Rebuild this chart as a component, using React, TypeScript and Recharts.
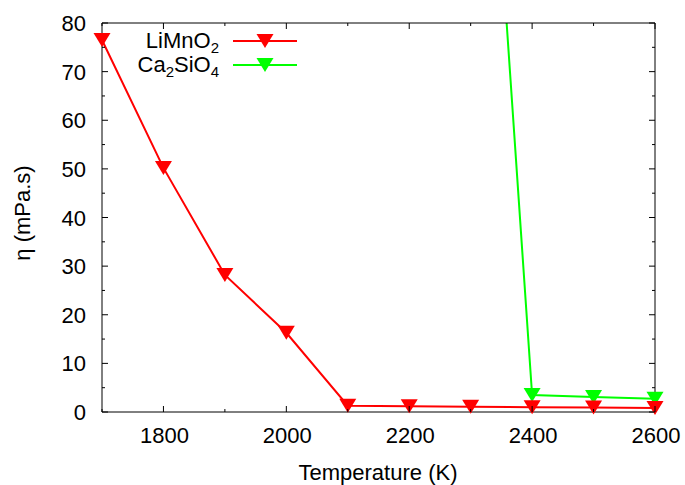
import React from 'react';
import { ComposedChart, Line, Scatter, XAxis, YAxis, Legend } from 'recharts';

const temperatures = [1700, 1800, 1900, 2000, 2100, 2200, 2300, 2400, 2500, 2600];
const limno2 = [76.5, 50.2, 28.2, 16.3, 1.3, 1.2, 1.1, 1.0, 0.9, 0.8];
const ca2sio4 = [null, null, null, null, null, null, 188, 3.5, 3.1, 2.7];

const xTicks = [1700, 1800, 1900, 2000, 2100, 2200, 2300, 2400, 2500, 2600];
const xLabelTicks = [1800, 2000, 2200, 2400, 2600];
const yTicks = [0, 5, 10, 15, 20, 25, 30, 35, 40, 45, 50, 55, 60, 65, 70, 75, 80];
const yLabelTicks = [0, 10, 20, 30, 40, 50, 60, 70, 80];

const RED = '#ff0000';
const GREEN = '#00ff00';
const FONT = '"Liberation Sans", Arial, sans-serif';
const FS = 22;

const data = temperatures.map((t, i) => ({ t, limno2: limno2[i], ca2sio4: ca2sio4[i] }));
const greenVisible = data.filter((d) => d.ca2sio4 != null && d.ca2sio4 <= 80);

const tri = (cx: number, cy: number, color: string, key?: any) => (
  <polygon
    key={key}
    points={`${cx - 8.5},${cy - 7} ${cx + 8.5},${cy - 7} ${cx},${cy + 7}`}
    fill={color}
    stroke="none"
  />
);

const RedDot = (props: any) => {
  const { cx, cy, index } = props;
  if (cx == null || cy == null) return <g key={`r${index}`} />;
  return tri(cx, cy, RED, `r${index}`);
};

const GreenShape = (props: any) => {
  const { cx, cy } = props;
  if (cx == null || cy == null) return <g />;
  return tri(cx, cy, GREEN);
};

const BottomTick = (props: any) => {
  const { x, y, payload } = props;
  const v = payload.value;
  const major = xLabelTicks.includes(v);
  return (
    <g>
      <line x1={x} y1={y} x2={x} y2={y - (major ? 6 : 3)} stroke="#000" strokeWidth={1} />
      {major && (
        <text x={x + 1} y={y + 31} textAnchor="middle" fontFamily={FONT} fontSize={FS} fill="#000">
          {v}
        </text>
      )}
    </g>
  );
};

const TopTick = (props: any) => {
  const { x, y, payload } = props;
  const major = xLabelTicks.includes(payload.value);
  return <line x1={x} y1={y} x2={x} y2={y + (major ? 6 : 3)} stroke="#000" strokeWidth={1} />;
};

const LeftTick = (props: any) => {
  const { x, y, payload } = props;
  const v = payload.value;
  const major = yLabelTicks.includes(v);
  return (
    <g>
      <line x1={x} y1={y} x2={x + (major ? 6 : 3)} y2={y} stroke="#000" strokeWidth={1} />
      {major && (
        <text x={x - 16} y={y + 8} textAnchor="end" fontFamily={FONT} fontSize={FS} fill="#000">
          {v}
        </text>
      )}
    </g>
  );
};

const RightTick = (props: any) => {
  const { x, y, payload } = props;
  const major = yLabelTicks.includes(payload.value);
  return <line x1={x} y1={y} x2={x - (major ? 6 : 3)} y2={y} stroke="#000" strokeWidth={1} />;
};

const XLabel = () => (
  <text x={378} y={480} textAnchor="middle" fontFamily={FONT} fontSize={FS} fill="#000">
    Temperature (K)
  </text>
);

const YLabel = () => (
  <text
    x={30}
    y={213}
    transform="rotate(-90, 30, 213)"
    textAnchor="middle"
    fontFamily={FONT}
    fontSize={FS}
    fill="#000"
  >
    η (mPa.s)
  </text>
);

const LegendContent = () => (
  <svg
    width={685}
    height={485}
    style={{ position: 'absolute', left: 0, top: 0, overflow: 'visible', pointerEvents: 'none' }}
  >
    <text x={219} y={48} textAnchor="end" fontFamily={FONT} fontSize={FS} fill="#000">
      LiMnO<tspan dy={5} fontSize={15}>2</tspan>
    </text>
    <line x1={233} y1={41} x2={297} y2={41} stroke={RED} strokeWidth={2} />
    {tri(265, 41, RED)}
    <text x={219} y={72} textAnchor="end" fontFamily={FONT} fontSize={FS} fill="#000">
      Ca<tspan dy={5} fontSize={15}>2</tspan>
      <tspan dy={-5}>SiO</tspan>
      <tspan dy={5} fontSize={15}>4</tspan>
    </text>
    <line x1={233} y1={65} x2={297} y2={65} stroke={GREEN} strokeWidth={2} />
    {tri(265, 65, GREEN)}
  </svg>
);

export default function App() {
  return (
    <div style={{ position: 'absolute', left: 0, top: 0 }}>
      <ComposedChart
        width={685}
        height={485}
        data={data}
        margin={{ top: 22, right: 29, left: 0, bottom: 0 }}
        style={{ background: '#fff' }}
      >
        <XAxis
          dataKey="t"
          type="number"
          domain={[1700, 2600]}
          ticks={xTicks}
          interval={0}
          tickSize={0}
          tickMargin={0}
          tickLine={false}
          tick={BottomTick}
          axisLine={{ stroke: '#000', strokeWidth: 1 }}
          height={73}
          label={XLabel}
        />
        <XAxis
          xAxisId="top"
          dataKey="t"
          orientation="top"
          type="number"
          domain={[1700, 2600]}
          allowDataOverflow
          ticks={xTicks}
          interval={0}
          tickSize={0}
          tickMargin={0}
          tickLine={false}
          tick={TopTick}
          axisLine={{ stroke: '#000', strokeWidth: 1 }}
          height={1}
        />
        <YAxis
          type="number"
          domain={[0, 80]}
          ticks={yTicks}
          interval={0}
          tickSize={0}
          tickMargin={0}
          tickLine={false}
          tick={LeftTick}
          axisLine={{ stroke: '#000', strokeWidth: 1 }}
          width={102}
          label={YLabel}
        />
        <YAxis
          yAxisId="right"
          orientation="right"
          type="number"
          domain={[0, 80]}
          allowDataOverflow
          ticks={yTicks}
          interval={0}
          tickSize={0}
          tickMargin={0}
          tickLine={false}
          tick={RightTick}
          axisLine={{ stroke: '#000', strokeWidth: 1 }}
          width={1}
        />
        <YAxis yAxisId="g" hide type="number" domain={[0, 80]} allowDataOverflow />
        <Legend
          content={LegendContent}
          wrapperStyle={{ position: 'absolute', left: 0, top: 0, width: 0, height: 0, overflow: 'visible' }}
        />
        <Line
          xAxisId="top"
          yAxisId="right"
          dataKey="limno2"
          stroke="none"
          dot={false}
          activeDot={false}
          legendType="none"
          isAnimationActive={false}
        />
        <Line
          yAxisId="g"
          dataKey="ca2sio4"
          stroke={GREEN}
          strokeWidth={2}
          dot={false}
          activeDot={false}
          isAnimationActive={false}
        />
        <Scatter
          data={greenVisible}
          dataKey="ca2sio4"
          shape={GreenShape}
          isAnimationActive={false}
        />
        <Line
          dataKey="limno2"
          stroke={RED}
          strokeWidth={2}
          dot={RedDot}
          activeDot={false}
          isAnimationActive={false}
        />
      </ComposedChart>
    </div>
  );
}
